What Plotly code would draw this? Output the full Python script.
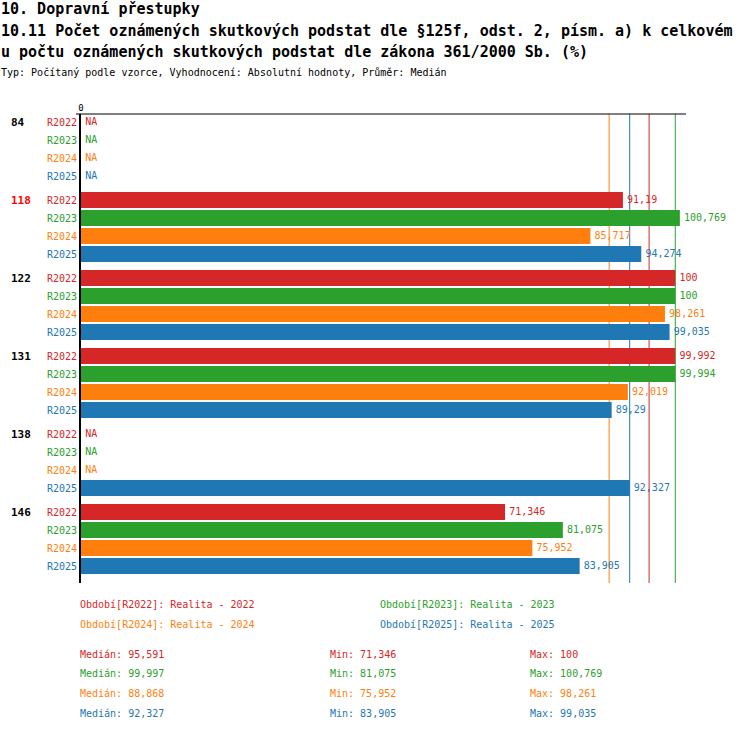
import numpy as np
import plotly.graph_objects as go

# data
groups = ["84", "118", "122", "131", "138", "146"]
periods = ["R2022", "R2023", "R2024", "R2025"]
r2022 = [None, 91.19, 100, 99.992, None, 71.346]
r2023 = [None, 100.769, 100, 99.994, None, 81.075]
r2024 = [None, 85.717, 98.261, 92.019, None, 75.952]
r2025 = [None, 94.274, 99.035, 89.29, 92.327, 83.905]
series = [r2022, r2023, r2024, r2025]
legend_names = ["Realita - 2022", "Realita - 2023", "Realita - 2024", "Realita - 2025"]
colors = ["#d62728", "#2ca02c", "#ff7f0e", "#1f77b4"]
highlight = "118"

FONT = "DejaVu Sans Mono"
W, H = 750, 732
M_L, M_R, M_T, M_B = 81, 64, 114, 149
GROUP_STEP = 78 / 18  # rows per group incl. gap


def fmt(v):
    return f"{v:g}".replace(".", ",")


def py(p):
    # pixel y -> paper y
    return (H - M_B - p) / (H - M_T - M_B)


def px(p):
    return (p - M_L) / (W - M_L - M_R)


fig = go.Figure()

for si, vals in enumerate(series):
    ys = [gi * GROUP_STEP + si for gi in range(len(groups))]
    fig.add_trace(go.Bar(
        x=[v if v is not None else 0 for v in vals], y=ys, orientation="h",
        width=0.89, marker=dict(color=colors[si], line_width=0),
        showlegend=False, hoverinfo="skip",
    ))
    fig.add_trace(go.Scatter(
        x=[v if v is not None else 0 for v in vals], y=ys, mode="markers+text",
        marker=dict(size=5, color="rgba(0,0,0,0)"),
        text=[fmt(v) if v is not None else "NA" for v in vals],
        textposition="middle right",
        textfont=dict(family=FONT, size=10, color=colors[si]),
        showlegend=False, hoverinfo="skip", cliponaxis=False,
    ))
    # median line
    med = float(np.median([v for v in vals if v is not None]))
    fig.add_shape(type="line", x0=med, x1=med, y0=0, y1=1, yref="paper",
                  line=dict(color=colors[si], width=1), layer="below")

# top axis line reaches a bit left of zero
fig.add_shape(type="line", x0=px(76), x1=1, xref="paper", y0=1, y1=1, yref="paper",
              line=dict(color="black", width=1))

anns = []
for gi, g in enumerate(groups):
    anns.append(dict(
        x=px(9), xref="paper", y=gi * GROUP_STEP, yref="y", xanchor="left", yanchor="middle",
        text=f"<b>{g}</b>", showarrow=False,
        font=dict(family=FONT, size=11, color="#ff0000" if g == highlight else "black"),
    ))
    for si, p in enumerate(periods):
        anns.append(dict(
            x=0, xref="x", xshift=-2, y=gi * GROUP_STEP + si, yref="y",
            xanchor="right", yanchor="middle",
            text=p, showarrow=False, font=dict(family=FONT, size=10, color=colors[si]),
        ))

# titles
titles = [
    (9, "<b>10. Dopravní přestupky</b>", 15),
    (31, "<b>10.11 Počet oznámených skutkových podstat dle §125f, odst. 2, písm. a) k celkovém</b>", 15),
    (52, "<b>u počtu oznámených skutkových podstat dle zákona 361/2000 Sb. (%)</b>", 15),
    (73, "Typ: Počítaný podle vzorce, Vyhodnocení: Absolutní hodnoty, Průměr: Medián", 10),
]
for ty, t, fs in titles:
    anns.append(dict(x=px(-1), xref="paper", y=py(ty), yref="paper",
                     xanchor="left", yanchor="middle", text=t, showarrow=False,
                     font=dict(family=FONT, size=fs, color="black")))

# legend
leg_pos = [(78, 604), (378, 604), (78, 624), (378, 624)]
for si, p in enumerate(periods):
    lx, ly = leg_pos[si]
    anns.append(dict(x=px(lx), xref="paper", y=py(ly), yref="paper",
                     xanchor="left", yanchor="middle",
                     text=f"Období[{p}]: {legend_names[si]}", showarrow=False,
                     font=dict(family=FONT, size=10, color=colors[si])))

# stats
for si, vals in enumerate(series):
    v = [x for x in vals if x is not None]
    ly = 654 + si * 19.7
    stats = [(78, "Medián: " + fmt(round(float(np.median(v)), 3))),
             (328, "Min: " + fmt(min(v))),
             (528, "Max: " + fmt(max(v)))]
    for sx, t in stats:
        anns.append(dict(x=px(sx), xref="paper", y=py(ly), yref="paper",
                         xanchor="left", yanchor="middle",
                         text=t, showarrow=False,
                         font=dict(family=FONT, size=10, color=colors[si])))

bottom = (len(groups) - 1) * GROUP_STEP + 3 + 17 / 18
fig.update_layout(
    width=W, height=H,
    margin=dict(l=M_L, r=M_R, t=M_T, b=M_B),
    plot_bgcolor="white", paper_bgcolor="white",
    barmode="overlay", annotations=anns,
    xaxis=dict(range=[0, 101.8], side="top", showgrid=False, zeroline=False,
               showline=False, tickvals=[0], ticktext=["0"], ticks="",
               tickfont=dict(family=FONT, size=9, color="black")),
    yaxis=dict(range=[bottom, -8 / 18], showgrid=False, zeroline=False,
               showline=True, linecolor="black", linewidth=2,
               showticklabels=False, ticks=""),
)

fig.write_html("out.html", config={"displayModeBar": False},
               post_script="document.body.style.margin='0';")
